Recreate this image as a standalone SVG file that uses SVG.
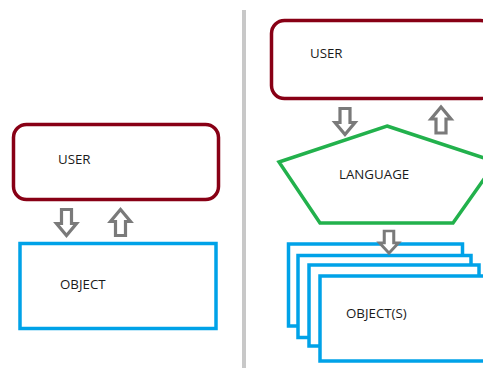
<svg xmlns="http://www.w3.org/2000/svg" width="483" height="368" viewBox="0 0 483 368">
<style>
.user{fill:#fff;stroke:#880015;stroke-width:3.5}
.obj{fill:#fff;stroke:#00a2e8;stroke-width:3.5}
.lang{fill:#fff;stroke:#22b14c;stroke-width:3.5}
.arr{fill:#fff;stroke:#7a7a7a;stroke-width:3.2;stroke-linejoin:miter}
.t{font-family:"Open Sans","Noto Sans",sans-serif;font-size:13.3px;fill:#1a1a1a}
</style>
<defs>
<path id="down" d="M-5,0 H5 V14 H10 L0,26 L-10,14 H-5 Z"/>
<path id="up" d="M-5,26 H5 V12 H10 L0,0 L-10,12 H-5 Z"/>
</defs>
<rect x="0" y="0" width="483" height="368" fill="#fff"/>
<rect x="242" y="10" width="4" height="358" fill="#c8c8c8"/>
<g id="user-left">
<rect class="user" x="13.5" y="124.5" width="205" height="75" rx="13"/>
<text class="t" x="58" y="164">USER</text>
</g>
<g id="object-left">
<rect class="obj" x="20" y="243.5" width="196" height="85"/>
<text class="t" x="60" y="289">OBJECT</text>
</g>
<g id="user-right">
<rect class="user" x="271.5" y="20.5" width="222" height="78" rx="13"/>
<text class="t" x="310" y="58">USER</text>
</g>
<g id="language">
<polygon class="lang" points="387,126 496,162 453,223 320,223 279,162"/>
<text class="t" x="339" y="179">LANGUAGE</text>
</g>
<g id="objects">
<rect class="obj" x="288.5" y="244" width="174" height="82"/>
<rect class="obj" x="298" y="255.5" width="173" height="82"/>
<rect class="obj" x="309" y="265" width="170" height="81"/>
<rect class="obj" x="320" y="276" width="170" height="85"/>
<text class="t" x="346" y="318">OBJECT(S)</text>
</g>
<g id="connectors">
<use href="#down" class="arr" x="66.5" y="209.5"/>
<use href="#up" class="arr" x="120.5" y="209.5"/>
<use href="#down" class="arr" x="345" y="108.5"/>
<use href="#up" class="arr" x="441" y="107"/>
<use href="#down" class="arr" x="389" y="231" transform="translate(389 231) scale(0.95 0.85) translate(-389 -231)"/>
</g>
</svg>
